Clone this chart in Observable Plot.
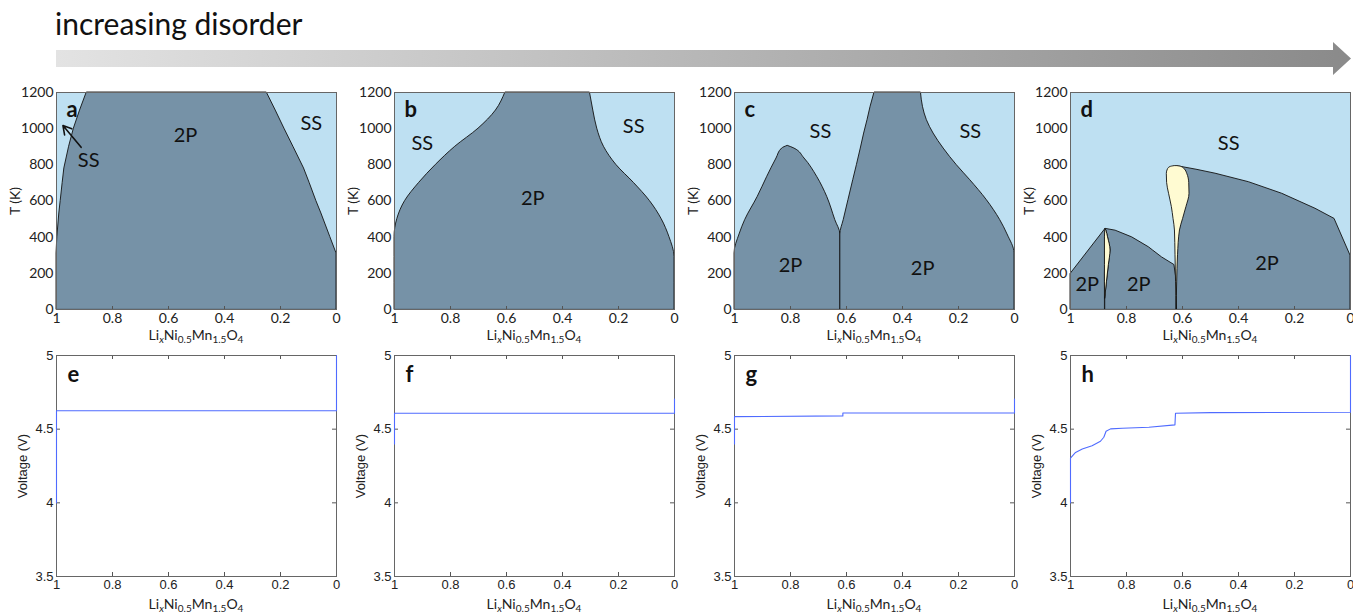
<!DOCTYPE html>
<html><head><meta charset="utf-8">
<script src="https://cdn.jsdelivr.net/npm/d3@7"></script>
<script src="https://cdn.jsdelivr.net/npm/@observablehq/plot@0.6"></script>
<style>
html,body{margin:0;padding:0;background:#fff;}
body{width:1353px;height:614px;overflow:hidden;position:relative;}
.panel{position:absolute;width:340px;}
.xlab{position:absolute;width:280px;text-align:center;font-family:Lato,"Open Sans",sans-serif;font-size:14px;line-height:14px;color:#222;white-space:nowrap;}
.xlab sub{font-size:10px;vertical-align:-3px;line-height:0;}
</style></head><body>
<svg id="header" width="1353" height="80" style="position:absolute;left:0;top:0">
  <defs><linearGradient id="grad" x1="0" x2="1" y1="0" y2="0"><stop offset="0" stop-color="#e3e3e3"/><stop offset="1" stop-color="#8a8a8a"/></linearGradient></defs>
  <text x="55" y="35" font-family="Lato" font-size="30" fill="#111">increasing disorder</text>
  <polygon points="56,50 1333,50 1333,42 1351,58.5 1333,75 1333,67 56,67" fill="url(#grad)"/>
</svg>
<div id="root"></div>
<script>
// ---------- shared axis ticks ----------
const xTicks = [1, 0.8, 0.6, 0.4, 0.2, 0];
const tTicks = [0, 200, 400, 600, 800, 1000, 1200];
const vTicks = [3.5, 4, 4.5, 5];
const letters = ["a", "b", "c", "d", "e", "f", "g", "h"];
const tLabel = "T (K)";
const vLabel = "Voltage (V)";

// ---------- panel a : phase diagram ----------
const aT     = [0, 310, 400, 531, 600, 700, 780, 900, 1000, 1100, 1200];
const aLeft  = [1, 1, 0.997, 0.990, 0.985, 0.978, 0.972, 0.955, 0.938, 0.916, 0.892];
const aRight = [0, 0, 0.022, 0.054, 0.072, 0.096, 0.116, 0.154, 0.186, 0.217, 0.249];
const aLabelText = ["2P", "SS", "SS"];
const aLabelX    = [0.539, 0.09, 0.885];
const aLabelT    = [964, 1029, 824];
const aArrowX1 = [0.912], aArrowT1 = [897], aArrowX2 = [0.977], aArrowT2 = [1017];

// ---------- panel b ----------
const bT     = [0, 290, 400, 500, 600, 700, 800, 900, 1000, 1100, 1200];
const bLeft  = [1, 1, 1, 0.99, 0.962, 0.912, 0.852, 0.783, 0.70, 0.638, 0.604];
const bRight = [0, 0, 0.018, 0.046, 0.088, 0.145, 0.208, 0.252, 0.276, 0.290, 0.302];
const bLabelText = ["SS", "SS", "2P"];
const bLabelX    = [0.901, 0.146, 0.506];
const bLabelT    = [918, 1010, 614];

// ---------- panel c ----------
const c1T     = [0, 310, 415, 494, 623, 734, 835, 890, 905];
const c1Left  = [1, 1, 0.982, 0.962, 0.917, 0.883, 0.850, 0.830, 0.81];
const c1Right = [0.622, 0.622, 0.622, 0.640, 0.669, 0.705, 0.750, 0.786, 0.81];
const c2T     = [0, 310, 415, 494, 605, 715, 798, 890, 973, 1047, 1121, 1200];
const c2Left  = [0.622, 0.622, 0.622, 0.610, 0.593, 0.576, 0.563, 0.549, 0.537, 0.525, 0.514, 0.5];
const c2Right = [0, 0, 0.025, 0.051, 0.099, 0.158, 0.206, 0.253, 0.289, 0.313, 0.327, 0.334];
const cLabelText = ["SS", "SS", "2P", "2P"];
const cLabelX    = [0.693, 0.158, 0.8, 0.328];
const cLabelT    = [982, 982, 245, 227];

// ---------- panel d ----------
const dAT     = [0, 196, 446];
const dALeft  = [1, 1, 0.875];
const dARight = [0.877, 0.877, 0.875];
const dBT     = [0, 61, 150, 246, 288, 326, 344, 399, 436, 446];
const dBLeft  = [0.876, 0.876, 0.870, 0.863, 0.860, 0.857, 0.858, 0.866, 0.872, 0.875];
const dBRight = [0.62, 0.62, 0.62, 0.629, 0.673, 0.705, 0.72, 0.78, 0.839, 0.875];
const dCT     = [0, 298, 501, 557, 640, 704, 751, 773, 791];
const dCLeft  = [0.62, 0.62, 0.62, 0.62, 0.62, 0.62, 0.62, 0.62, 0.62];
const dCRight = [0, 0, 0.057, 0.125, 0.244, 0.363, 0.482, 0.55, 0.613];
const dSliverT     = [61, 150, 246, 326, 399, 436, 446];
const dSliverLeft  = [0.876, 0.877, 0.877, 0.877, 0.877, 0.876, 0.875];
const dSliverRight = [0.876, 0.870, 0.863, 0.857, 0.866, 0.872, 0.875];
const dDropT     = [0, 150, 300, 437, 500, 566, 640, 700, 750, 775, 788, 793];
const dDropLeft  = [0.621, 0.623, 0.625, 0.627, 0.632, 0.638, 0.648, 0.655, 0.656, 0.652, 0.643, 0.628];
const dDropRight = [0.621, 0.619, 0.616, 0.609, 0.598, 0.586, 0.575, 0.576, 0.583, 0.592, 0.603, 0.618];
const dLabelText = ["SS", "2P", "2P", "2P"];
const dLabelX    = [0.435, 0.94, 0.756, 0.298];
const dLabelT    = [918, 135, 135, 255];

// ---------- voltage curves (e-h) ----------
const eX = [1, 1, 0, 0];
const eV = [4.0, 4.625, 4.625, 5.0];
const fX = [1, 1, 0, 0];
const fV = [4.40, 4.608, 4.608, 4.705];
const gX = [1, 1, 0.613, 0.613, 0, 0];
const gV = [4.40, 4.585, 4.59, 4.61, 4.61, 4.705];
const hX = [1, 1, 0.982, 0.958, 0.923, 0.893, 0.881, 0.873, 0.857, 0.815, 0.72, 0.627, 0.625, 0.5, 0.0, 0.0];
const hV = [4.0, 4.304, 4.342, 4.365, 4.388, 4.418, 4.445, 4.486, 4.502, 4.506, 4.513, 4.529, 4.608, 4.612, 4.615, 5.0];

// ---------- styling ----------
const SS_FILL = "#bee0f2", TWO_FILL = "#7692a7", YEL_FILL = "#fffbd2";
const EDGE = "#111", FRAME = "#666", TICK = "#555", BLUE = "#4f6bff";
const W = 340, ML = 56, MR = 4;
const TOP_MT = 8, TOP_MB = 36, TOP_PH = 217;
const BOT_MT = 8, BOT_MB = 26, BOT_PH = 221;
const PW = W - ML - MR;
const panelLefts = [0, 338, 678, 1014];
const topY = 84, botY = 347;
const CAL = "Lato, 'Open Sans', sans-serif";
const ARIAL = "'Liberation Sans', Arial, sans-serif";

const rows = (T, x1, x2) => T.map((t, i) => ({T: t, x1: x1[i], x2: x2[i]}));
const labelRows = (txt, xs, ts) => txt.map((t, i) => ({t, x: xs[i], T: ts[i]}));

function region(T, x1, x2, fill, curve) {
  return Plot.areaX(rows(T, x1, x2), {y: "T", x1: "x1", x2: "x2", fill, stroke: EDGE, strokeWidth: 0.9, curve});
}

function phasePanel(regions, labels, letter, extra = []) {
  return Plot.plot({
    width: W, height: TOP_MT + TOP_PH + TOP_MB,
    marginLeft: ML, marginRight: MR, marginTop: TOP_MT, marginBottom: TOP_MB,
    x: {domain: [1, 0]},
    y: {domain: [0, 1200]},
    style: {fontFamily: CAL, fontSize: "14px", color: "#222", background: "transparent", overflow: "visible"},
    marks: [
      Plot.frame({fill: SS_FILL}),
      ...regions,
      Plot.tickX(xTicks, {x: d => d, insetTop: TOP_PH - 3, stroke: TICK}),
      Plot.text(labels, {x: "x", y: "T", text: "t", fontSize: 20, fontFamily: CAL, fill: "#111", textAnchor: "middle", lineAnchor: "middle"}),
      ...extra,
      Plot.text([letter], {frameAnchor: "top-left", dx: 10, dy: 17, text: d => d, fontSize: 22, fontWeight: "bold", fontFamily: CAL, fill: "#111", textAnchor: "start", lineAnchor: "middle"}),
      Plot.axisX({ticks: xTicks, tickSize: 0, tickPadding: 4, tickFormat: d => String(d), label: null, fontSize: 14, fontFamily: CAL}),
      Plot.axisY({ticks: tTicks, tickSize: 0, tickPadding: 3, tickFormat: d => String(d), label: null, fontSize: 14, fontFamily: CAL}),
      Plot.text([tLabel], {frameAnchor: "left", dx: -41, rotate: -90, text: d => d, fontSize: 14, fontFamily: CAL, fill: "#222", textAnchor: "middle", lineAnchor: "middle"}),
      Plot.frame({stroke: FRAME, strokeWidth: 1})
    ]
  });
}

function voltPanel(xs, vs, letter) {
  const data = xs.map((x, i) => ({x, V: vs[i]}));
  return Plot.plot({
    width: W, height: BOT_MT + BOT_PH + BOT_MB,
    marginLeft: ML, marginRight: MR, marginTop: BOT_MT, marginBottom: BOT_MB,
    x: {domain: [1, 0]},
    y: {domain: [3.5, 5]},
    style: {fontFamily: ARIAL, fontSize: "13px", color: "#222", background: "transparent", overflow: "visible"},
    marks: [
      Plot.tickX(xTicks, {x: d => d, insetTop: BOT_PH - 4, stroke: TICK}),
      Plot.tickX(xTicks, {x: d => d, insetBottom: BOT_PH - 4, stroke: TICK}),
      Plot.tickY(vTicks, {y: d => d, insetRight: PW - 4, stroke: TICK}),
      Plot.tickY(vTicks, {y: d => d, insetLeft: PW - 4, stroke: TICK}),
      Plot.text([letter], {frameAnchor: "top-left", dx: 11, dy: 19, text: d => d, fontSize: 22, fontWeight: "bold", fontFamily: CAL, fill: "#111", textAnchor: "start", lineAnchor: "middle"}),
      Plot.axisX({ticks: xTicks, tickSize: 0, tickPadding: 3, tickFormat: d => String(d), label: null, fontSize: 13, fontFamily: ARIAL}),
      Plot.axisY({ticks: vTicks, tickSize: 0, tickPadding: 3, tickFormat: d => String(d), label: null, fontSize: 13, fontFamily: ARIAL}),
      Plot.text([vLabel], {frameAnchor: "left", dx: -34, rotate: -90, text: d => d, fontSize: 13, fontFamily: ARIAL, fill: "#222", textAnchor: "middle", lineAnchor: "middle"}),
      Plot.frame({stroke: FRAME, strokeWidth: 1}),
      Plot.line(data, {x: "x", y: "V", stroke: BLUE, strokeWidth: 1.1})
    ]
  });
}

const topCharts = [
  phasePanel([region(aT, aLeft, aRight, TWO_FILL, "linear")], labelRows(aLabelText, aLabelX, aLabelT), letters[0],
    [Plot.arrow(aArrowX1.map((x, i) => ({x1: x, y1: aArrowT1[i], x2: aArrowX2[i], y2: aArrowT2[i]})), {x1: "x1", y1: "y1", x2: "x2", y2: "y2", stroke: "#111", strokeWidth: 1.6, headLength: 9})]),
  phasePanel([region(bT, bLeft, bRight, TWO_FILL, "monotone-y")], labelRows(bLabelText, bLabelX, bLabelT), letters[1]),
  phasePanel([region(c1T, c1Left, c1Right, TWO_FILL, "monotone-y"), region(c2T, c2Left, c2Right, TWO_FILL, "monotone-y")], labelRows(cLabelText, cLabelX, cLabelT), letters[2]),
  phasePanel([
    region(dAT, dALeft, dARight, TWO_FILL, "linear"),
    region(dBT, dBLeft, dBRight, TWO_FILL, "linear"),
    region(dCT, dCLeft, dCRight, TWO_FILL, "linear"),
    region(dSliverT, dSliverLeft, dSliverRight, YEL_FILL, "monotone-y"),
    region(dDropT, dDropLeft, dDropRight, YEL_FILL, "monotone-y")
  ], labelRows(dLabelText, dLabelX, dLabelT), letters[3])
];
const botCharts = [
  voltPanel(eX, eV, letters[4]),
  voltPanel(fX, fV, letters[5]),
  voltPanel(gX, gV, letters[6]),
  voltPanel(hX, hV, letters[7])
];

const root = document.getElementById("root");
const xLabelHTML = 'Li<sub><i>x</i></sub>Ni<sub>0.5</sub>Mn<sub>1.5</sub>O<sub>4</sub>';
function place(chart, left, top) {
  const div = document.createElement("div");
  div.className = "panel";
  div.style.left = left + "px";
  div.style.top = top + "px";
  div.appendChild(chart);
  root.appendChild(div);
}
topCharts.forEach((c, i) => place(c, panelLefts[i], topY));
botCharts.forEach((c, i) => place(c, panelLefts[i], botY));
function xlab(left, top) {
  const d = document.createElement("div");
  d.className = "xlab";
  d.style.left = left + "px";
  d.style.top = top + "px";
  d.innerHTML = xLabelHTML;
  root.appendChild(d);
}
panelLefts.forEach(l => { xlab(l + ML, 328); xlab(l + ML, 597); });
</script>
</body></html>
